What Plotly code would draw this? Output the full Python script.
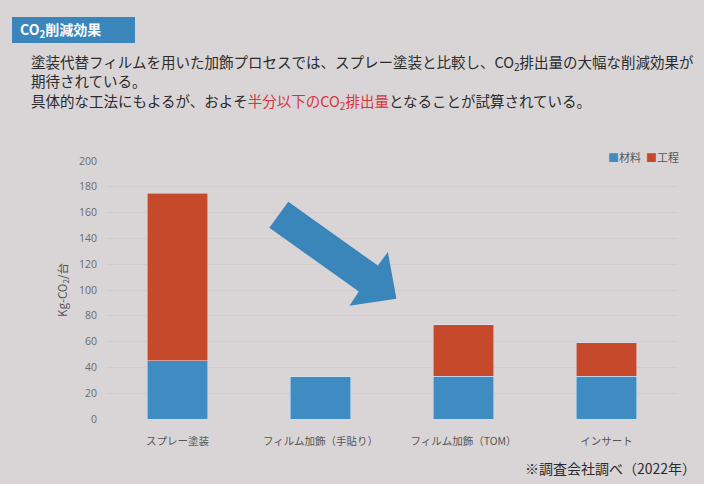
import plotly.graph_objects as go

categories = ["スプレー塗装", "フィルム加飾（手貼り）", "フィルム加飾（TOM）", "インサート"]
material = [45, 33, 33, 33]
process = [130, 0, 40, 26]
series_names = ["材料", "工程"]
y_ticks = [0, 20, 40, 60, 80, 100, 120, 140, 160, 180, 200]

W, H = 704, 484
ML, MR, MT, MB = 106, 26, 161, 65
PW, PH = W - ML - MR, H - MT - MB

def fx(px):
    return (px - ML) / PW

def fy(py):
    return (H - MB - py) / PH

BLUE = "#3f8cc2"
ORANGE = "#c5492a"
BG = "#d9d5d7"
FONT = "Noto Sans CJK JP"

fig = go.Figure()
fig.add_trace(go.Bar(x=categories, y=material, name=series_names[0], marker_color=BLUE))
fig.add_trace(go.Bar(x=categories, y=process, name=series_names[1], marker_color=ORANGE))

# arrow (decorative block arrow) in pixel space converted to paper
pts = [(288.3, 201.7), (377.8, 265.6), (387.9, 252.0), (396.4, 298.7),
       (349.5, 305.8), (358.8, 291.6), (269.3, 227.7)]
path = "M " + " L ".join(f"{fx(x):.4f},{fy(y):.4f}" for x, y in pts) + " Z"

shapes = [
    dict(type="path", xref="paper", yref="paper", path=path,
         fillcolor="#3a86bb", line=dict(width=0)),
    dict(type="rect", xref="paper", yref="paper",
         x0=fx(12), x1=fx(135), y0=fy(43), y1=fy(17),
         fillcolor="#3a86bb", line=dict(width=0)),
]

legend_text = (f"<span style='color:{BLUE}'>■</span>{series_names[0]}  "
               f"<span style='color:{ORANGE}'>■</span>{series_names[1]}")

annotations = [
    dict(text="<b>CO<sub>2</sub>削減効果</b>", x=fx(18), y=fy(30), xref="paper", yref="paper",
         xanchor="left", yanchor="middle", showarrow=False,
         font=dict(family=FONT, size=14, color="white")),
    dict(text="塗装代替フィルムを用いた加飾プロセスでは、スプレー塗装と比較し、CO<sub>2</sub>排出量の大幅な削減効果が",
         x=fx(29), y=fy(62), xref="paper", yref="paper", xanchor="left", yanchor="middle",
         showarrow=False, font=dict(family=FONT, size=14.5, color="#2b2b2b")),
    dict(text="期待されている。",
         x=fx(29), y=fy(81), xref="paper", yref="paper", xanchor="left", yanchor="middle",
         showarrow=False, font=dict(family=FONT, size=14.5, color="#2b2b2b")),
    dict(text="具体的な工法にもよるが、およそ<span style='color:#d8323f'>半分以下のCO<sub>2</sub>排出量</span>となることが試算されている。",
         x=fx(29), y=fy(101), xref="paper", yref="paper", xanchor="left", yanchor="middle",
         showarrow=False, font=dict(family=FONT, size=14.5, color="#2b2b2b")),
    dict(text="Kg-CO<sub>2</sub>/台", x=fx(62), y=fy(290), xref="paper", yref="paper",
         xanchor="center", yanchor="middle", textangle=-90, showarrow=False,
         font=dict(family=FONT, size=11.5, color="#555555")),
    dict(text="※調査会社調べ（2022年）", x=fx(698), y=fy(468), xref="paper", yref="paper",
         xanchor="right", yanchor="middle", showarrow=False,
         font=dict(family=FONT, size=14, color="#2b2b2b")),
    dict(text=legend_text, x=fx(681), y=fy(157), xref="paper", yref="paper",
         xanchor="right", yanchor="middle", showarrow=False,
         font=dict(family=FONT, size=11, color="#555555")),
]

fig.update_layout(
    width=W, height=H,
    margin=dict(l=ML, r=MR, t=MT, b=MB),
    paper_bgcolor=BG, plot_bgcolor=BG,
    barmode="stack", bargap=0.58,
    font=dict(family=FONT, color="#555555"),
    showlegend=False,
    xaxis=dict(showgrid=False, zeroline=False, showline=False, ticks="",
               ticklabelstandoff=14,
               tickfont=dict(family=FONT, size=10.5, color="#555555")),
    yaxis=dict(range=[0, 200], tickvals=y_ticks, showgrid=True, gridcolor="#d0ccce",
               gridwidth=1, zeroline=False, showline=False, ticks="",
               ticklabelstandoff=8,
               tickfont=dict(family="Open Sans", size=10.5, color="#6a6a6a")),
    shapes=shapes,
    annotations=annotations,
)

fig.write_html("out.html")
